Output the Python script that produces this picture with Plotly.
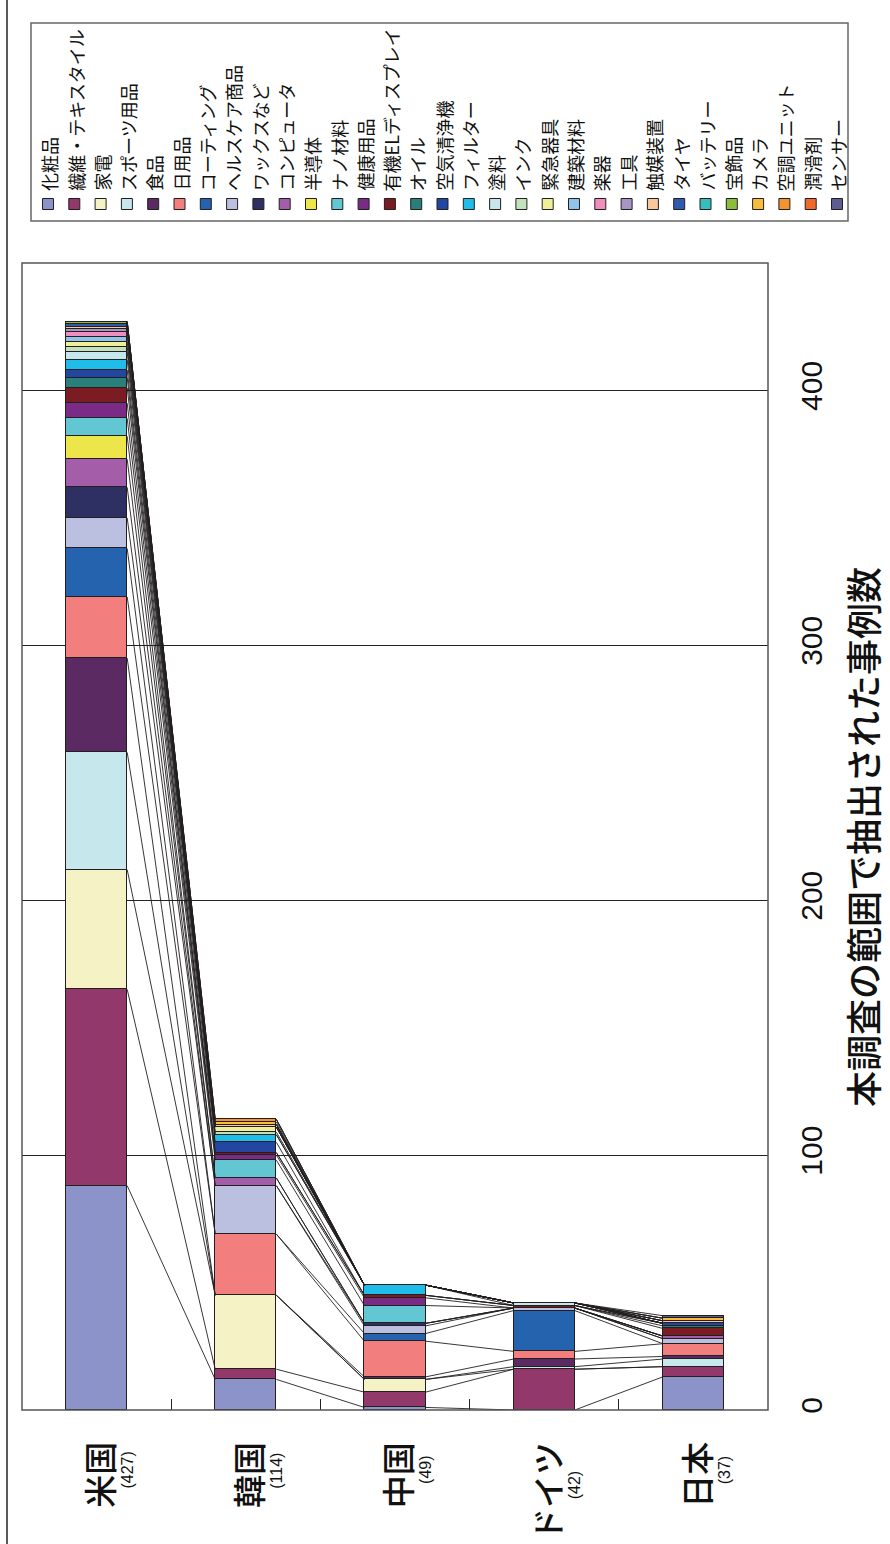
import plotly.graph_objects as go

countries = ["米国", "韓国", "中国", "ドイツ", "日本"]
totals = [427, 114, 49, 42, 37]
categories = ["化粧品", "繊維・テキスタイル", "家電", "スポーツ用品", "食品", "日用品",
              "コーティング", "ヘルスケア商品", "ワックスなど", "コンピュータ", "半導体",
              "ナノ材料", "健康用品", "有機ELディスプレイ", "オイル", "空気清浄機",
              "フィルター", "塗料", "インク", "緊急器具", "建築材料", "楽器", "工具",
              "触媒装置", "タイヤ", "バッテリー", "宝飾品", "カメラ", "空調ユニット",
              "潤滑剤", "センサー"]
colors = ["#8C93C8", "#93386A", "#F5F3C6", "#C6E7EB", "#5C2A62", "#F27E7E",
          "#2563AE", "#BBBFE0", "#2E2F62", "#A45DA8", "#EDE64A", "#62C7D3",
          "#7A2B86", "#7B1C22", "#2A7E7B", "#2346A0", "#1EBDEA", "#C6E7EB",
          "#C2E2BE", "#F1EE98", "#8FC5EB", "#EE8FBE", "#A895C8", "#F8C79C",
          "#2F5BAE", "#36BDBE", "#8BBE3C", "#F5BD3A", "#F39430", "#EF6A2A", "#5D5D91"]

usa = [88, 77, 47, 46, 37, 24, 19, 12, 12, 11, 9, 7, 6, 6, 4, 3, 4, 3, 2, 2, 2, 2, 1, 1, 1, 0, 1, 0, 0, 0, 0]
korea = [12, 4, 29, 0, 0, 24, 0, 19, 0, 3, 0, 7, 2, 1, 0, 4, 3, 0, 1, 2, 0, 0, 0, 1, 0, 0, 0, 1, 1, 0, 0]
china = [1, 6, 5, 0, 1, 14, 3, 3, 1, 0, 0, 7, 3, 1, 0, 0, 4, 0, 0, 0, 0, 0, 0, 0, 0, 0, 0, 0, 0, 0, 0]
germany = [0, 16, 0, 1, 3, 3, 16, 1, 0, 0, 0, 0, 0, 1, 0, 0, 0, 1, 0, 0, 0, 0, 0, 0, 0, 0, 0, 0, 0, 0, 0]
japan = [13, 4, 0, 3, 1, 5, 0, 2, 0, 1, 0, 0, 0, 3, 1, 1, 0, 0, 0, 0, 0, 0, 0, 1, 0, 0, 0, 1, 0, 0, 1]
series_by_country = [usa, korea, china, germany, japan]

y_ticks = [0, 100, 200, 300, 400]
y_title = "本調査の範囲で抽出された事例数"

# ---- layout geometry ----
W, H = 890, 1544
L, R, T, B = 22, 122, 263, 134
PW, PH = W - L - R, H - T - B
BAR_W = 0.41
JP = "Noto Sans CJK JP"
LAT = "Liberation Sans"


def px(x):
    return (x - L) / PW


def py(y):
    return (H - B - y) / PH


xs = list(range(len(countries)))
fig = go.Figure()

# series lines connecting segment tops
lx, ly = [], []
for c in range(len(categories)):
    tops = [sum(vals[:c + 1]) for vals in series_by_country]
    for i in range(len(countries) - 1):
        lx += [xs[i] + BAR_W / 2, xs[i + 1] - BAR_W / 2, None]
        ly += [tops[i], tops[i + 1], None]
fig.add_trace(go.Scatter(x=lx, y=ly, mode="lines", line=dict(color="#231F20", width=0.9),
                         showlegend=False, hoverinfo="skip"))

for c, cat in enumerate(categories):
    fig.add_trace(go.Bar(
        x=xs, y=[vals[c] for vals in series_by_country], name=cat, width=BAR_W,
        marker=dict(color=colors[c], line=dict(color="#231F20", width=1)),
        showlegend=False))

shapes = []
annotations = []

# plot frame
shapes.append(dict(type="rect", xref="paper", yref="paper", x0=0, x1=1, y0=0, y1=1,
                   line=dict(color="#555555", width=1.5), layer="above"))
# outer border line on the left
shapes.append(dict(type="line", xref="paper", yref="paper", x0=px(7), x1=px(7),
                   y0=py(0), y1=py(H), line=dict(color="#222222", width=1.5)))

# legend box
shapes.append(dict(type="rect", xref="paper", yref="paper", x0=px(31), x1=px(848),
                   y0=py(221), y1=py(23), line=dict(color="#666666", width=1.5)))
for k, cat in enumerate(categories):
    cx = 48 + 26.3 * k
    shapes.append(dict(type="rect", xref="paper", yref="paper",
                       x0=px(cx - 5.5), x1=px(cx + 5.5), y0=py(209.5), y1=py(198.5),
                       fillcolor=colors[k], line=dict(color="#231F20", width=1)))
    annotations.append(dict(xref="paper", yref="paper", x=px(cx + 1), y=py(193),
                            text=cat, textangle=-90, showarrow=False,
                            xanchor="center", yanchor="bottom",
                            font=dict(family=JP, size=18, color="#111111")))

# country labels
for i, (cn, tot) in enumerate(zip(countries, totals)):
    fs = 33
    top = 1440
    annotations.append(dict(xref="x", yref="paper", x=xs[i] + 0.015, y=py(top),
                            text=cn, textangle=-90, showarrow=False,
                            xanchor="center", yanchor="top",
                            font=dict(family=JP, size=fs, color="#111111", weight=500)))
    nlen = len(cn) * fs * 0.92
    annotations.append(dict(xref="x", yref="paper", x=xs[i] + 0.205, y=py(top + nlen / 2),
                            text="(%d)" % tot, textangle=-90, showarrow=False,
                            xanchor="center", yanchor="middle",
                            font=dict(family=LAT, size=16, color="#111111")))

# axis title
annotations.append(dict(xref="paper", yref="paper", x=px(862), y=py(837),
                        text=y_title, textangle=-90, showarrow=False,
                        xanchor="center", yanchor="middle",
                        font=dict(family=JP, size=36, color="#111111", weight=500)))

fig.update_layout(
    width=W, height=H, margin=dict(l=L, r=R, t=T, b=B),
    paper_bgcolor="white", plot_bgcolor="white", barmode="stack", bargap=0,
    showlegend=False, shapes=shapes, annotations=annotations,
    xaxis=dict(range=[-0.5, len(countries) - 0.5], showgrid=False, zeroline=False,
               tickvals=[i + 0.5 for i in xs[:-1]], ticks="inside", ticklen=11,
               tickcolor="#222222", tickwidth=1, showticklabels=False, showline=False),
    yaxis=dict(range=[0, 450], side="right", tickvals=y_ticks, showgrid=True,
               gridcolor="#222222", gridwidth=1, zeroline=False, showline=False,
               tickangle=-90, ticks="", ticklabelstandoff=23,
               tickfont=dict(family=LAT, size=30, color="#111111")),
)

fig.write_html("out.html", config={"displayModeBar": False},
               post_script="document.body.style.margin='0px';document.body.style.overflow='hidden';")
